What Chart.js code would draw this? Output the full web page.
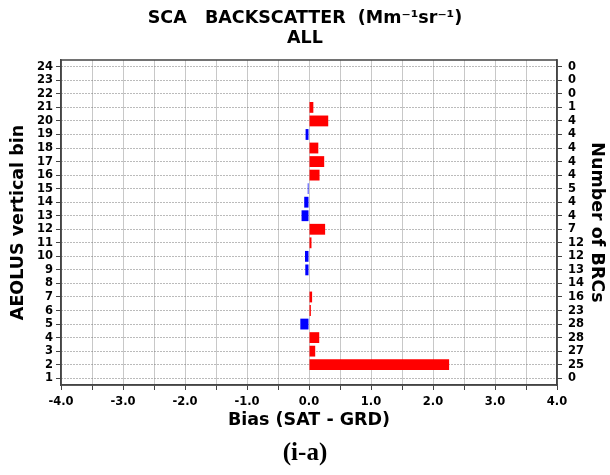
<!DOCTYPE html>
<html>
<head>
<meta charset="utf-8">
<script src="https://cdn.jsdelivr.net/npm/chart.js@4"></script>
<style>
  html, body { margin: 0; padding: 0; background: #fff; }
  #wrap { width: 610px; height: 475px; }
</style>
</head>
<body>
<div id="wrap"><canvas id="biasChart"></canvas></div>
<script>
// AEOLUS vertical bins (bottom to top)
const bins = ['1','2','3','4','5','6','7','8','9','10','11','12',
              '13','14','15','16','17','18','19','20','21','22','23','24'];
// mean bias per bin, SAT - GRD (null = no bar)
const bias = [null, 2.26, 0.10, 0.165, -0.14, 0.03, 0.05, null, -0.06, -0.065, 0.04, 0.26,
              -0.12, -0.077, -0.02, 0.17, 0.245, 0.15, -0.055, 0.31, 0.07, null, null, null];
// number of BRCs per bin, shown on the right axis
const brcs = ['0','25','27','28','28','23','16','14','13','12','12','7',
              '4','4','5','4','4','4','4','4','1','0','0','0'];

const FONT = 'DejaVu Sans';
const TICK_FONT = { family: FONT, size: 11.5, weight: 'bold' };
const LABEL_FONT = { family: FONT, size: 17.5, weight: 'bold', lineHeight: 1.2 };

// box around the plot area
const frame = {
    id: 'frame',
    afterDraw(chart) {
        const { ctx, chartArea: a } = chart;
        ctx.save();
        ctx.strokeStyle = '#444';
        ctx.lineWidth = 1.5;
        ctx.strokeRect(a.left, a.top, a.right - a.left, a.bottom - a.top);
        ctx.restore();
    }
};

new Chart(document.getElementById('biasChart'), {
    type: 'bar',
    data: {
        labels: bins,
        datasets: [{
            data: bias,
            backgroundColor: ctx => (ctx.raw < 0 ? '#0000ff' : '#ff0000'),
            borderWidth: 0,
            barPercentage: 0.8,
            categoryPercentage: 1.0
        }]
    },
    options: {
        indexAxis: 'y',
        responsive: true,
        maintainAspectRatio: false,
        animation: false,
        layout: { padding: 0 },
        plugins: {
            legend: { display: false },
            tooltip: { enabled: false },
            title: {
                display: true,
                text: ['SCA   BACKSCATTER  (Mm\u207B\u00B9sr\u207B\u00B9)', 'ALL'],
                color: '#000',
                font: { family: FONT, size: 17.5, weight: 'bold', lineHeight: 1.15 },
                padding: { top: 8, bottom: 11.75 }
            },
            subtitle: {
                display: true,
                position: 'bottom',
                text: '(i-a)',
                color: '#000',
                font: { family: 'Liberation Serif', size: 25, weight: 'bold', lineHeight: 1.2 },
                padding: { top: 4, bottom: 6 }
            }
        },
        scales: {
            x: {
                type: 'linear',
                min: -4,
                max: 4,
                ticks: {
                    stepSize: 0.5,
                    color: '#000',
                    padding: 5,
                    maxRotation: 0,
                    font: TICK_FONT,
                    callback: v => (Number.isInteger(v) ? v.toFixed(1) : '')
                },
                grid: { color: '#c8c8c8', lineWidth: 1, tickColor: '#444', tickLength: 5 },
                border: { color: '#444', width: 1.5 },
                title: {
                    display: true,
                    text: 'Bias (SAT - GRD)',
                    color: '#000',
                    font: LABEL_FONT,
                    padding: { top: 0, bottom: 4.5 }
                },
                afterFit: s => { s.height = 50; }
            },
            y: {
                type: 'category',
                reverse: true,
                offset: true,
                ticks: {
                    autoSkip: false,
                    color: '#000',
                    padding: 3,
                    font: TICK_FONT
                },
                grid: { offset: false, color: '#777', lineWidth: 1, tickColor: '#444', tickLength: 5, tickBorderDash: [] },
                border: { color: '#444', width: 1.5, dash: [1, 2] },
                title: {
                    display: true,
                    text: 'AEOLUS vertical bin',
                    color: '#000',
                    font: LABEL_FONT,
                    padding: { top: 8, bottom: 0 }
                },
                afterFit: s => { s.width = 61; }
            },
            y2: {
                type: 'category',
                position: 'right',
                labels: brcs,
                reverse: true,
                offset: true,
                ticks: {
                    autoSkip: false,
                    color: '#000',
                    padding: 6,
                    font: TICK_FONT
                },
                grid: { offset: false, drawOnChartArea: false, tickColor: '#444', tickLength: 5 },
                border: { color: '#444', width: 1.5 },
                title: {
                    display: true,
                    text: 'Number of BRCs',
                    color: '#000',
                    font: LABEL_FONT,
                    padding: { top: 2.5, bottom: 0 }
                },
                afterFit: s => { s.width = 53; }
            }
        }
    },
    plugins: [frame]
});
</script>
</body>
</html>
